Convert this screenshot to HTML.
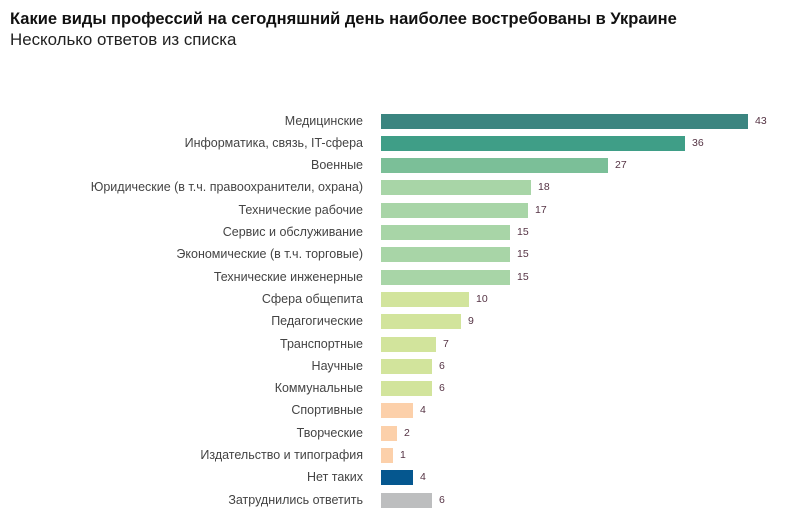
<!DOCTYPE html>
<html><head><meta charset="utf-8"><style>
body{margin:0;width:791px;height:514px;background:#fff;font-family:"Liberation Sans","DejaVu Sans",sans-serif;position:relative;overflow:hidden}
.t{position:absolute;left:10px;top:10px;font-size:16.5px;font-weight:bold;color:#111}
.s{position:absolute;left:10px;top:30px;font-size:16.9px;color:#222}
.l{position:absolute;right:428px;font-size:12.5px;color:#444;white-space:nowrap;line-height:15px}
.b{position:absolute;left:381px;height:15px}
.v{position:absolute;font-size:10.5px;color:#553344;line-height:15px}
</style></head><body>
<div class="t">Какие виды профессий на сегодняшний день наиболее востребованы в Украине</div>
<div class="s">Несколько ответов из списка</div>
<div id="c"></div>
<script>
var d=[["Медицинские",43,367,"#3b8580"],["Информатика, связь, IT-сфера",36,304,"#3f9e87"],["Военные",27,227,"#7bbf98"],["Юридические (в т.ч. правоохранители, охрана)",18,150,"#a8d5a7"],["Технические рабочие",17,147,"#a8d5a7"],["Сервис и обслуживание",15,129,"#a8d5a7"],["Экономические (в т.ч. торговые)",15,129,"#a8d5a7"],["Технические инженерные",15,129,"#a8d5a7"],["Сфера общепита",10,88,"#d2e49c"],["Педагогические",9,80,"#d2e49c"],["Транспортные",7,55,"#d2e49c"],["Научные",6,51,"#d2e49c"],["Коммунальные",6,51,"#d2e49c"],["Спортивные",4,32,"#fcd0aa"],["Творческие",2,16,"#fcd0aa"],["Издательство и типография",1,12,"#fcd0aa"],["Нет таких",4,32,"#05578f"],["Затруднились ответить",6,51,"#bdbebf"]];
var h="";d.forEach(function(r,i){var y=113.5+i*22.3;
h+='<div class="l" style="top:'+y+'px">'+r[0]+'</div><div class="b" style="top:'+y+'px;width:'+r[2]+'px;background:'+r[3]+'"></div><div class="v" style="top:'+y+'px;left:'+(381+r[2]+7)+'px">'+r[1]+'</div>';});
document.getElementById("c").innerHTML=h;
</script>
</body></html>
